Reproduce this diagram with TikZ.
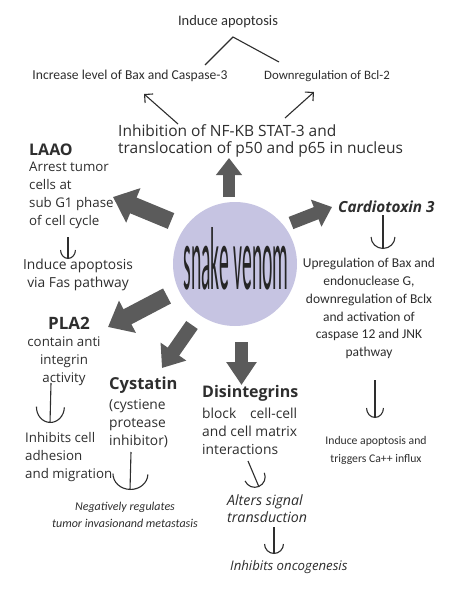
\documentclass[tikz,border=0pt]{standalone}
\usepackage{fontspec}
\setmainfont{Open Sans}
\newfontfamily\calfont{Carlito}
\usetikzlibrary{arrows.meta}
\definecolor{txt}{HTML}{2E2E2E}
\definecolor{blk}{HTML}{5B5B5B}
\definecolor{venom}{HTML}{C6C4E2}
\begin{document}
\begin{tikzpicture}[x=1pt,y=-1pt,
  lbl/.style={inner sep=0pt, text=txt, font=\fontsize{13.3}{18}\selectfont},
  cal/.style={inner sep=0pt, text=txt, font=\calfont\fontsize{13.5}{17.8}\selectfont},
  head/.style={inner sep=0pt, text=txt, font=\bfseries\fontsize{16}{18}\selectfont},
  blockarr/.style={draw=blk},
  thin/.style={draw=txt, line width=1.1pt, -{Arc Barb[length=#1]}},
  thinv/.style={draw=txt, line width=1.1pt, -{Straight Barb[length=6pt,width=12pt]}},
  plain/.style={draw=txt, line width=1.1pt}]
\useasboundingbox[fill=white] (0,0) rectangle (474,589);

% centre
\node[circle, fill=venom, minimum size=124pt, inner sep=0pt] (sv) at (235,264) {};
\node[inner sep=0pt, text=txt!80!black] (svt) at (236,259) {\calfont\resizebox{105pt}{62pt}{snake venom}};

% block arrows
\coordinate (u0) at (229,197); \coordinate (u1) at (229,158);
\coordinate (l0) at (171,221); \coordinate (l1) at (113,197);
\coordinate (r0) at (291,223); \coordinate (r1) at (332,207);
\coordinate (p0) at (167,296); \coordinate (p1) at (108,327);
\coordinate (c0) at (192,325); \coordinate (c1) at (162,368);
\coordinate (d0) at (241.5,342); \coordinate (d1) at (241.5,385);
\draw[blockarr, line width=12pt, -{Triangle[length=17pt,width=25pt]}] (u0) -- (u1);
\draw[blockarr, line width=17pt, -{Triangle[length=22pt,width=36pt]}] (l0) -- (l1);
\draw[blockarr, line width=13pt, -{Triangle[length=17pt,width=28pt]}] (r0) -- (r1);
\draw[blockarr, line width=17pt, -{Triangle[length=22pt,width=35pt]}] (p0) -- (p1);
\draw[blockarr, line width=14pt, -{Triangle[length=20pt,width=30pt]}] (c0) -- (c1);
\draw[blockarr, line width=13pt, -{Triangle[length=23pt,width=29pt]}] (d0) -- (d1);

% top
\node[cal, font=\calfont\fontsize{14.5}{17}\selectfont] (top) at (228,22) {Induce apoptosis};
\node[cal, font=\calfont\fontsize{13.6}{17}\selectfont] (bax) at (130,76) {Increase level of Bax and Caspase-3};
\node[cal, font=\calfont\fontsize{12.8}{17}\selectfont] (bcl) at (327,76) {Downregulation of Bcl-2};
\node[lbl, font=\fontsize{15.5}{17.5}\selectfont, align=left, anchor=west] (nfkb) at (118,141)
  {Inhibition of NF-KB STAT-3 and\\translocation of p50 and p65 in nucleus};
\coordinate (k1) at (205,65); \coordinate (k2) at (233,37); \coordinate (k3) at (279,62);
\draw[plain] (k1) -- (k2) -- (k3);
\coordinate (a1) at (178,124); \coordinate (a2) at (144,94);
\coordinate (b1) at (285,118); \coordinate (b2) at (314,92);
\draw[thinv] (a1) -- (a2);
\draw[thinv] (b1) -- (b2);

% LAAO
\node[head, anchor=west] (laao) at (29,150) {LAAO};
\node[lbl, align=left, anchor=west] (arr) at (29,195) {Arrest tumor\\cells at\\sub G1 phase\\of cell cycle};
\coordinate (e1) at (68,237); \coordinate (e2) at (68,259);
\draw[thin={9pt,width=16pt}] (e1) -- (e2);
\node[lbl, font=\fontsize{13.8}{18}\selectfont, align=center] (fas) at (78,275) {Induce apoptosis\\via Fas pathway};

% Cardiotoxin
\node[head, font=\bfseries\itshape\fontsize{15.3}{18}\selectfont, anchor=west] (ctx) at (338,207) {Cardiotoxin 3};
\coordinate (f1) at (383,215); \coordinate (f2) at (383,249);
\draw[thin={12pt,width=25pt}] (f1) -- (f2);
\node[cal, align=center] (upr) at (369,308.5) {Upregulation of Bax and\\endonuclease G,\\downregulation of Bclx\\and activation of\\caspase 12 and JNK\\pathway};
\coordinate (g1) at (375,380); \coordinate (g2) at (375,418);
\draw[thin={10pt,width=18pt}] (g1) -- (g2);
\node[cal, font=\calfont\fontsize{11.7}{18}\selectfont, align=center] (ca) at (376,450) {Induce apoptosis and\\triggers Ca++ influx};

% PLA2
\node[head, font=\bfseries\fontsize{17}{18}\selectfont] (pla) at (69,323) {PLA2};
\node[lbl, align=center] (anti) at (64,361) {contain anti\\integrin\\activity};
\coordinate (h1) at (51,383); \coordinate (h2) at (50,423);
\draw[thin={16pt,width=29pt}] (h1) -- (h2);
\node[lbl, align=left, anchor=west] (adh) at (25,457) {Inhibits cell\\adhesion\\and migration};

% Cystatin
\node[head, font=\bfseries\fontsize{16.5}{18}\selectfont, anchor=west] (cys) at (109,385) {Cystatin};
\node[lbl, font=\fontsize{13.8}{18}\selectfont, align=left, anchor=west] (prot) at (109,424) {(cystiene\\protease\\inhibitor)};
\coordinate (i1) at (131,452); \coordinate (i2) at (130,490);
\draw[thin={16pt,width=36pt}] (i1) -- (i2);
\node[cal, font=\calfont\itshape\fontsize{12}{17}\selectfont, align=center] (neg) at (125,514.5) {Negatively regulates\\tumor invasionand metastasis};

% Disintegrins
\node[head, anchor=west] (dis) at (202,393) {Disintegrins};
\node[lbl, font=\fontsize{13.8}{18}\selectfont, align=left, anchor=west] (blk) at (202,431)
  {\hbox to 95pt{block\hfill cell-cell}\\\hbox to 95pt{and\hfill cell\hfill matrix}\\interactions};
\coordinate (j1) at (248,461); \coordinate (j2) at (259,487);
\draw[thin={11pt,width=22pt}] (j1) -- (j2);
\node[lbl, font=\itshape\fontsize{14.2}{17.5}\selectfont, align=left, anchor=west] (alt) at (227,508.5) {Alters signal\\transduction};
\coordinate (m1) at (274,527); \coordinate (m2) at (274,554);
\draw[thin={10pt,width=20pt}] (m1) -- (m2);
\node[lbl, font=\itshape\fontsize{13.2}{17}\selectfont, anchor=west] (onc) at (230,567) {Inhibits oncogenesis};
\end{tikzpicture}
\end{document}
